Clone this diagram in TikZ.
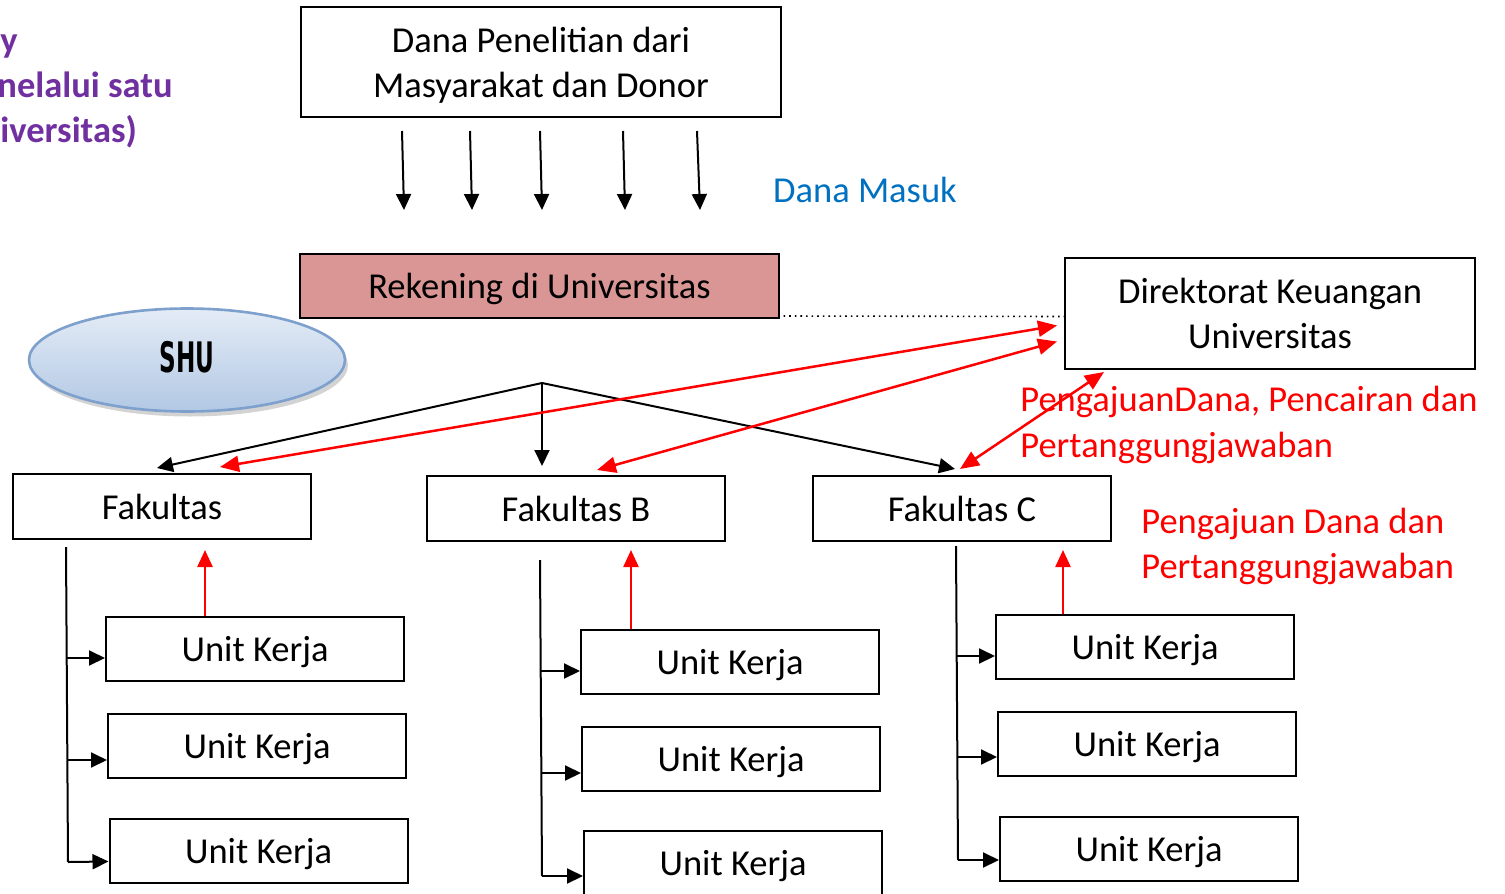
\documentclass[tikz,border=0pt]{standalone}
\usepackage{fontspec}
\setmainfont{Carlito}
\newfontfamily\shufont{DejaVu Sans}
\usetikzlibrary{arrows.meta,calc,shadows,shapes.geometric}
\definecolor{rekpink}{RGB}{217,150,148}
\definecolor{mblue}{RGB}{0,112,192}
\definecolor{mpurple}{RGB}{112,48,160}
\definecolor{mred}{RGB}{255,0,0}
\definecolor{shuedge}{RGB}{126,160,205}
\definecolor{shutop}{RGB}{228,236,246}
\definecolor{shubot}{RGB}{178,200,228}
\begin{document}
\begin{tikzpicture}[x=0.5pt,y=-0.5pt,
  txt/.style={font=\fontsize{18.25}{22.5}\selectfont},
  line/.style={text height=12.8pt, text depth=0pt},
  box/.style={txt, draw=black, line width=1pt, inner sep=0pt, align=center},
  fak/.style={box, line, minimum width=149pt, minimum height=32.5pt},
  unit/.style={box, line, minimum width=149pt, minimum height=32pt},
  blk/.style={draw=black, line width=1pt, -{Triangle[length=8pt,width=7.5pt]}},
  plain/.style={draw=black, line width=1pt},
  redup/.style={draw=mred, line width=1.25pt, -{Triangle[length=8.5pt,width=7.5pt]}},
  redboth/.style={draw=mred, line width=1.25pt, {Triangle[length=9.5pt,width=8pt]}-{Triangle[length=9.5pt,width=8pt]}},
  redtxt/.style={txt, line, text=mred, anchor=west, inner sep=0pt},
  purptxt/.style={font=\fontsize{18.25}{22.5}\selectfont\bfseries, line, text=mpurple, anchor=west, inner sep=0pt}
]
\useasboundingbox (0,0) rectangle (1505,894);
\clip (0,0) rectangle (1505,894);

% top-left title (partly outside the slide in the original)
\node[purptxt] (p1) at (0,40) {y};
\node[purptxt] (p2) at (-3,85) {nelalui satu};
\node[purptxt] (p3) at (0,130) {iversitas)};

% main boxes
\node[box, text depth=0pt, minimum width=240pt, minimum height=55pt] (dana) at (541,62) {Dana Penelitian dari\\Masyarakat dan Donor};
\node[box, line, fill=rekpink, minimum width=239.5pt, minimum height=32pt] (rek) at (539.5,286) {Rekening di Universitas};
\node[box, minimum width=205pt, minimum height=55.5pt] (dir) at (1270,313.5) {Direktorat Keuangan\\Universitas};

\node[txt, line, text=mblue, inner sep=0pt] (masuk) at (865,190) {Dana Masuk};

% SHU ellipse
\node[ellipse, draw=shuedge, line width=1.3pt, top color=shutop, bottom color=shubot,
      minimum width=158pt, minimum height=51.5pt,
      drop shadow={opacity=0.35, shadow xshift=1.5pt, shadow yshift=-2.5pt, fill=gray}] (shu) at (187,360) {};
\node[font=\shufont\bfseries\fontsize{21}{24}\selectfont, inner sep=0pt] (shut) at (187,357) {\scalebox{0.55}[1]{SHU}};

% Fakultas
\node[fak] (fa) at (162,506.5) {Fakultas};
\node[fak] (fb) at (576,508.5) {Fakultas B};
\node[fak] (fc) at (962,508.5) {Fakultas C};

% Unit Kerja
\node[unit] (ua1) at (255,649) {Unit Kerja};
\node[unit] (ua2) at (257,746) {Unit Kerja};
\node[unit] (ua3) at (258.5,850.5) {Unit Kerja};
\node[unit] (ub1) at (730,662) {Unit Kerja};
\node[unit] (ub2) at (731,759) {Unit Kerja};
\node[unit] (ub3) at (733,863) {Unit Kerja};
\node[unit] (uc1) at (1145,647) {Unit Kerja};
\node[unit] (uc2) at (1147,744) {Unit Kerja};
\node[unit] (uc3) at (1149,848.5) {Unit Kerja};

% red labels
\node[redtxt] (l1) at (1020,399) {PengajuanDana, Pencairan dan};
\node[redtxt] (l2) at (1020,445) {Pertanggungjawaban};
\node[redtxt] (l3) at (1141,521) {Pengajuan Dana dan};
\node[redtxt] (l4) at (1141,566) {Pertanggungjawaban};

% incoming fund arrows
\coordinate (a1s) at (402,131); \coordinate (a1e) at (404,210);
\coordinate (a2s) at (470,131); \coordinate (a2e) at (472,210);
\coordinate (a3s) at (540,131); \coordinate (a3e) at (542,210);
\coordinate (a4s) at (623,131); \coordinate (a4e) at (625,210);
\coordinate (a5s) at (697,131); \coordinate (a5e) at (700,210);
\foreach \i in {1,...,5} {\draw[blk] (a\i s) -- (a\i e);}

% dotted link
\draw[black, line width=0.8pt, dotted] ($(rek.south east)+(-2,-3)$) -- ($(dir.west)+(0,3)$);

% distribution tree
\coordinate (apex) at (542,383);
\draw[blk] (apex) -- ($(fa.north)+(-5,-5)$);
\draw[blk] (apex) -- ($(fb.north)+(-34,-9)$);
\draw[blk] (apex) -- ($(fc.north)+(-7,-6)$);

% red two-way arrows
\draw[redboth] ($(dir.west)+(-7,12)$) -- ($(fa.north)+(58,-6)$);
\draw[redboth] ($(dir.west)+(-7,28)$) -- ($(fb.north)+(21,-5)$);
\draw[redboth] ($(dir.south west)+(40,2)$) -- ($(fc.north)+(-2,-6)$);

% red upward arrows
\draw[redup] (ua1.north -| 205,0) -- (205,550);
\draw[redup] (ub1.north -| 631,0) -- (631,550);
\draw[redup] (uc1.north -| 1063,0) -- (1063,550);

% spines
\coordinate (sa) at (66,547); \coordinate (sae) at (68,862);
\coordinate (sb) at (540,560); \coordinate (sbe) at (542,876);
\coordinate (sc) at (956,546); \coordinate (sce) at (958,860);
\draw[plain] (sa) -- (sae);
\draw[plain] (sb) -- (sbe);
\draw[plain] (sc) -- (sce);
\draw[blk] (67,658) -- ($(ua1.west)+(0,9)$);
\draw[blk] (67,760) -- ($(ua2.west)+(0,14)$);
\draw[blk] (sae) -- ($(ua3.west)+(0,11)$);
\draw[blk] (541,671) -- ($(ub1.west)+(0,9)$);
\draw[blk] (541,773) -- ($(ub2.west)+(0,14)$);
\draw[blk] (sbe) -- ($(ub3.west)+(0,13)$);
\draw[blk] (957,656) -- ($(uc1.west)+(0,9)$);
\draw[blk] (957,757) -- ($(uc2.west)+(0,13)$);
\draw[blk] (sce) -- ($(uc3.west)+(0,11.5)$);
\end{tikzpicture}
\end{document}
